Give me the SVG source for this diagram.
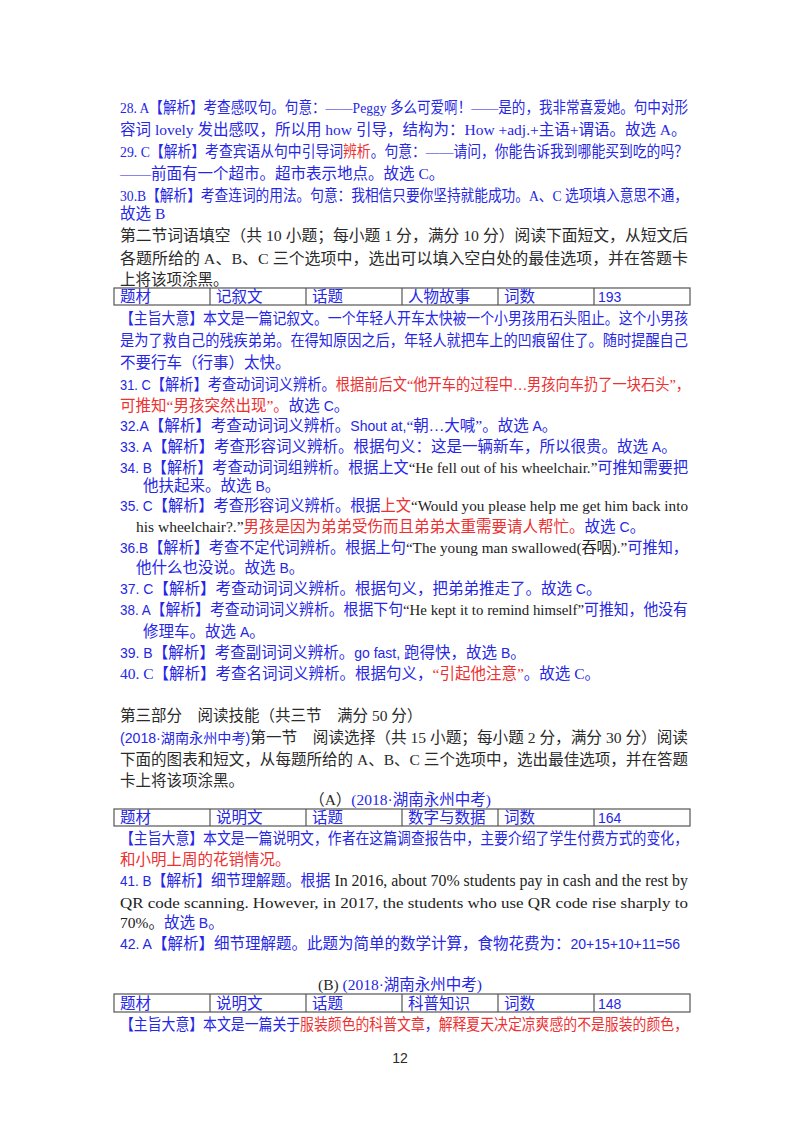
<svg xmlns="http://www.w3.org/2000/svg" width="800" height="1132" viewBox="0 0 800 1132">
<style>
text{font-family:"Liberation Serif","Noto Sans CJK SC",serif;font-size:15.5px;fill:#2a2a2a}
.b{fill:#2626e6}.r{fill:#ee3030}.k{fill:#222}
.c{font-family:"Liberation Sans","Noto Sans CJK SC",sans-serif;font-size:14px}
.cell{fill:none;stroke:#555;stroke-width:1.2}
</style>
<rect width="800" height="1132" fill="#fff"/>
<g id="q28-30">
<text x="120" y="113" textLength="568" lengthAdjust="spacingAndGlyphs" class="b">28. A【解析】考查感叹句。句意：——Peggy 多么可爱啊！——是的，我非常喜爱她。句中对形</text>
<text x="120" y="135" class="b">容词 lovely 发出感叹，所以用 how 引导，结构为：How +adj.+主语+谓语。故选 A。</text>
<text x="120" y="157" textLength="568" lengthAdjust="spacingAndGlyphs" class="b">29. C【解析】考查宾语从句中引导词<tspan class="r">辨析</tspan>。句意：——请问，你能告诉我到哪能买到吃的吗？</text>
<text x="120" y="179" class="b">——前面有一个超市。超市表示地点。故选 C。</text>
<text x="120" y="201" textLength="568" lengthAdjust="spacingAndGlyphs" class="b">30.B【解析】考查连词的用法。句意：我相信只要你坚持就能成功。A、C 选项填入意思不通，</text>
<text x="120" y="219" class="b">故选 B</text>
</g>
<g id="sec2">
<text x="120" y="241" textLength="568" lengthAdjust="spacingAndGlyphs" font-size="16.5">第二节词语填空（共 10 小题；每小题 1 分，满分 10 分）阅读下面短文，从短文后</text>
<text x="120" y="264" textLength="568" lengthAdjust="spacingAndGlyphs" font-size="16.5">各题所给的 A、B、C 三个选项中，选出可以填入空白处的最佳选项，并在答题卡</text>
<text x="120" y="285" font-size="16.5">上将该项涂黑。</text>
</g>
<g id="table1">
<rect class="cell" x="114" y="288" width="576" height="17"/>
<path class="cell" d="M210 288v17M306 288v17M402 288v17M498 288v17M594 288v17"/>
<text x="120" y="302" class="b">题材</text><text x="216" y="302" class="b">记叙文</text><text x="312" y="302" class="b">话题</text><text x="408" y="302" class="b">人物故事</text><text x="504" y="302" class="b">词数</text><text x="598" y="302" class="b c">193</text>
</g>
<g id="q31-40">
<text x="120" y="324" textLength="568" lengthAdjust="spacingAndGlyphs" class="b">【主旨大意】本文是一篇记叙文。一个年轻人开车太快被一个小男孩用石头阻止。这个小男孩</text>
<text x="120" y="346" textLength="568" lengthAdjust="spacingAndGlyphs" class="b">是为了救自己的残疾弟弟。在得知原因之后，年轻人就把车上的凹痕留住了。随时提醒自己</text>
<text x="120" y="368" class="b">不要行车（行事）太快。</text>
<text x="120" y="390" textLength="570" lengthAdjust="spacingAndGlyphs" class="b"><tspan class="c">31. C</tspan>【解析】考查动词词义辨析。<tspan class="r">根据前后文“他开车的过程中…男孩向车扔了一块石头”，</tspan></text>
<text x="120" y="411" class="r">可推知“男孩突然出现”。<tspan class="b">故选 <tspan class="c">C</tspan>。</tspan></text>
<text x="120" y="431" class="b"><tspan class="c">32.A</tspan>【解析】考查动词词义辨析。<tspan class="c">Shout at,</tspan>“朝…大喊”。故选 <tspan class="c">A</tspan>。</text>
<text x="120" y="452" class="b"><tspan class="c">33. A</tspan>【解析】考查形容词义辨析。根据句义：这是一辆新车，所以很贵。故选 <tspan class="c">A</tspan>。</text>
<text x="120" y="473" textLength="568" lengthAdjust="spacingAndGlyphs" class="b"><tspan class="c">34. B</tspan>【解析】考查动词词组辨析。根据上文<tspan class="k">“He fell out of his wheelchair.”</tspan>可推知需要把</text>
<text x="143" y="491" class="b">他扶起来。故选 <tspan class="c">B</tspan>。</text>
<text x="120" y="511" textLength="568" lengthAdjust="spacingAndGlyphs" class="b"><tspan class="c">35. C</tspan>【解析】考查形容词义辨析。根据<tspan class="r">上文</tspan><tspan class="k">“Would you please help me get him back into</tspan></text>
<text x="136" y="532" class="k">his wheelchair?.”<tspan class="r">男孩是因为弟弟受伤而且弟弟太重需要请人帮忙。</tspan><tspan class="b">故选 <tspan class="c">C</tspan>。</tspan></text>
<text x="120" y="553" textLength="568" lengthAdjust="spacingAndGlyphs" class="b"><tspan class="c">36.B</tspan>【解析】考查不定代词辨析。根据上句<tspan class="k">“The young man swallowed(吞咽).”</tspan>可推知，</text>
<text x="136" y="573" class="b">他什么也没说。故选 <tspan class="c">B</tspan>。</text>
<text x="120" y="594" class="b"><tspan class="c">37. C</tspan>【解析】考查动词词义辨析。根据句义，把弟弟推走了。故选 <tspan class="c">C</tspan>。</text>
<text x="120" y="615" textLength="568" lengthAdjust="spacingAndGlyphs" class="b"><tspan class="c">38. A</tspan>【解析】考查动词词义辨析。根据下句<tspan class="k">“He kept it to remind himself”</tspan>可推知，他没有</text>
<text x="143" y="637" class="b">修理车。故选 <tspan class="c">A</tspan>。</text>
<text x="120" y="658" class="b"><tspan class="c">39. B</tspan>【解析】考查副词词义辨析。<tspan class="c">go fast,</tspan> 跑得快，故选 <tspan class="c">B</tspan>。</text>
<text x="120" y="679" class="b">40. C【解析】考查名词词义辨析。根据句义，<tspan class="r">“引起他注意”</tspan>。故选 C。</text>
</g>
<g id="part3">
<text x="120" y="721" font-size="16.5">第三部分　阅读技能（共三节　满分 50 分）</text>
<text x="120" y="743" textLength="568" lengthAdjust="spacingAndGlyphs" font-size="16.5"><tspan class="b c">(2018·湖南永州中考)</tspan>第一节　阅读选择（共 15 小题；每小题 2 分，满分 30 分）阅读</text>
<text x="120" y="765" textLength="568" lengthAdjust="spacingAndGlyphs" font-size="16.5">下面的图表和短文，从每题所给的 A、B、C 三个选项中，选出最佳选项，并在答题</text>
<text x="120" y="786" font-size="16.5">卡上将该项涂黑。</text>
<text x="400" y="805" text-anchor="middle" font-size="16.5">（A）<tspan class="b">(2018·湖南永州中考)</tspan></text>
</g>
<g id="table2">
<rect class="cell" x="114" y="809" width="576" height="17"/>
<path class="cell" d="M210 809v17M306 809v17M402 809v17M498 809v17M594 809v17"/>
<text x="120" y="823" class="b">题材</text><text x="216" y="823" class="b">说明文</text><text x="312" y="823" class="b">话题</text><text x="408" y="823" class="b">数字与数据</text><text x="504" y="823" class="b">词数</text><text x="598" y="823" class="b c">164</text>
</g>
<g id="q41-42">
<text x="120" y="844" textLength="568" lengthAdjust="spacingAndGlyphs" class="b">【主旨大意】本文是一篇说明文，作者在这篇调查报告中，主要介绍了学生付费方式的变化，</text>
<text x="120" y="865" class="r">和小明上周的花销情况。</text>
<text x="120" y="886" textLength="568" lengthAdjust="spacingAndGlyphs" class="b"><tspan class="c">41. B</tspan>【解析】细节理解题。根据<tspan class="k" font-size="16.5"> In 2016, about 70% students pay in cash and the rest by</tspan></text>
<text x="120" y="908" textLength="568" lengthAdjust="spacingAndGlyphs" class="k" font-size="16.5">QR code scanning. However, in 2017, the students who use QR code rise sharply to</text>
<text x="120" y="928" class="k" font-size="16.5">70%。<tspan class="b" font-size="15.5">故选 <tspan class="c">B</tspan>。</tspan></text>
<text x="120" y="949" class="b"><tspan class="c">42. A</tspan>【解析】细节理解题。此题为简单的数学计算，食物花费为：<tspan class="c">20+15+10+11=56</tspan></text>
<text x="400" y="990" text-anchor="middle" font-size="17">(B) <tspan class="b">(2018·湖南永州中考)</tspan></text>
</g>
<g id="table3">
<rect class="cell" x="114" y="994" width="576" height="18"/>
<path class="cell" d="M210 994v18M306 994v18M402 994v18M498 994v18M594 994v18"/>
<text x="120" y="1009" class="b">题材</text><text x="216" y="1009" class="b">说明文</text><text x="312" y="1009" class="b">话题</text><text x="408" y="1009" class="b">科普知识</text><text x="504" y="1009" class="b">词数</text><text x="598" y="1009" class="b c">148</text>
</g>
<g id="tail">
<text x="120" y="1030" textLength="568" lengthAdjust="spacingAndGlyphs" class="b">【主旨大意】本文是一篇关于<tspan class="r">服装颜色的科普文章</tspan>，<tspan class="r">解释夏天决定凉爽感的不是服装的颜色，</tspan></text>
<text x="400" y="1063" text-anchor="middle" class="c" font-size="12">12</text>
</g>
</svg>
